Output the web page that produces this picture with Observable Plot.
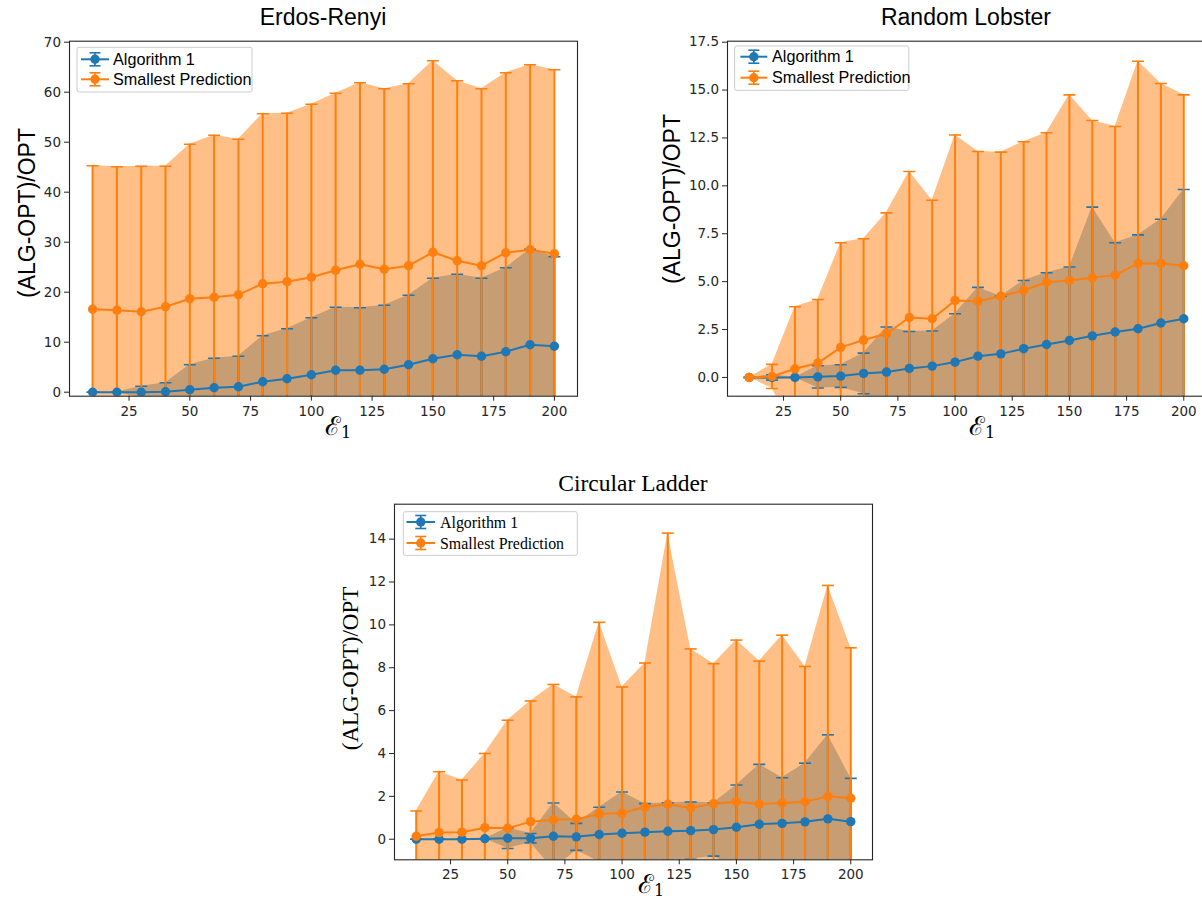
<!DOCTYPE html>
<html><head><meta charset="utf-8">
<script src="https://cdn.jsdelivr.net/npm/d3@7"></script>
<script src="https://cdn.jsdelivr.net/npm/@observablehq/plot@0.6"></script>
<style>
html,body{margin:0;padding:0;background:#fff;overflow:hidden;}
#page{position:relative;width:1202px;height:901px;overflow:hidden;background:#fff;}
.panel{position:absolute;}
#overlay{position:absolute;left:0;top:0;}
</style></head><body><div id="page"></div>
<script>
// x values (epsilon_1)
const eps = [10,20,30,40,50,60,70,80,90,100,110,120,130,140,150,160,170,180,190,200];
const xTicks = [25,50,75,100,125,150,175,200];
const seriesNames = ["Algorithm 1", "Smallest Prediction"];

// Erdos-Renyi
const erAlgMean  = [0,0,0,0.1,0.5,0.9,1.1,2.1,2.7,3.5,4.4,4.4,4.6,5.5,6.7,7.5,7.2,8.1,9.5,9.2];
const erAlgStd   = [0,0,1.2,1.8,5.0,5.9,6.1,9.2,10.0,11.4,12.6,12.5,12.8,13.9,16.1,16.1,15.6,16.8,19.1,17.9];
const erPredMean = [16.6,16.4,16.1,17.1,18.7,19.0,19.5,21.7,22.1,23.0,24.4,25.6,24.6,25.3,28.0,26.3,25.3,27.9,28.5,27.7];
const erPredStd  = [28.7,28.7,29.1,28.1,30.9,32.4,31.1,34.0,33.7,34.6,35.4,36.3,36.1,36.4,38.3,36.0,35.4,36.0,37.0,36.8];
const erYTicks = [0,10,20,30,40,50,60,70];

// Random Lobster
const lbAlgMean  = [0,0,0,0.03,0.07,0.21,0.28,0.47,0.59,0.8,1.11,1.23,1.5,1.72,1.93,2.17,2.37,2.54,2.84,3.06];
const lbAlgStd   = [0,0.14,0,0.58,0.59,1.06,2.35,1.93,1.83,2.52,3.59,3.01,3.56,3.74,3.83,6.72,4.66,4.9,5.42,6.75];
const lbPredMean = [0,0.05,0.45,0.75,1.57,1.95,2.28,3.13,3.06,4.02,3.98,4.24,4.54,4.97,5.06,5.2,5.34,5.95,5.95,5.83];
const lbPredStd  = [0,0.63,3.24,3.32,5.46,5.29,6.31,7.62,6.19,8.63,7.81,7.52,7.76,7.8,9.69,8.21,7.76,10.55,9.39,8.92];
const lbYTicks = [0,2.5,5,7.5,10,12.5,15,17.5];

// Circular Ladder
const ldAlgMean  = [0,0,0,0.02,0.05,0.05,0.14,0.11,0.22,0.28,0.33,0.37,0.4,0.45,0.56,0.7,0.74,0.81,0.95,0.82];
const ldAlgStd   = [0,0,0,0,0.48,0.22,1.55,0.63,1.27,1.92,1.33,1.33,1.34,1.24,1.97,2.79,2.13,2.74,3.92,2.02];
const ldPredMean = [0.14,0.31,0.33,0.54,0.51,0.82,0.91,0.93,1.18,1.22,1.5,1.63,1.46,1.66,1.75,1.64,1.69,1.75,2.0,1.91];
const ldPredStd  = [1.18,2.84,2.43,3.46,5.04,5.63,6.31,5.71,8.94,5.88,6.72,12.65,7.42,6.53,7.54,6.67,7.83,6.31,9.84,7.02];
const ldYTicks = [0,2,4,6,8,10,12,14];

const BLUE = "#1f77b4", ORANGE = "#ff7f0e";
const page = document.getElementById("page");

const rows = (mean, std) => eps.map((x, i) => ({x, m: mean[i], lo: mean[i] - std[i], hi: mean[i] + std[i]}));
const capSymbol = {draw(ctx) { ctx.moveTo(-6, 0); ctx.lineTo(6, 0); }};

function seriesMarks(r, color, part) {
  if (part === "area") return [Plot.areaY(r, {x: "x", y1: "lo", y2: "hi", fill: color, fillOpacity: 0.5, clip: true})];
  if (part === "bars") return [
    Plot.ruleX(r, {x: "x", y1: "lo", y2: "hi", stroke: color, strokeWidth: 2, clip: true}),
    Plot.dot(r, {x: "x", y: "hi", symbol: capSymbol, r: 6, stroke: color, strokeWidth: 1.6, fill: "none", clip: true}),
    Plot.dot(r, {x: "x", y: "lo", symbol: capSymbol, r: 6, stroke: color, strokeWidth: 1.6, fill: "none", clip: true})
  ];
  return [
    Plot.line(r, {x: "x", y: "m", stroke: color, strokeWidth: 2, clip: true}),
    Plot.dot(r, {x: "x", y: "m", r: 4.7, fill: color, stroke: "none", clip: true})
  ];
}

function makePanel(o) {
  const a = rows(o.algMean, o.algStd), p = rows(o.predMean, o.predStd);
  const plot = Plot.plot({
    width: o.width, height: o.height,
    marginLeft: o.ml, marginRight: o.mr, marginTop: o.mt, marginBottom: o.mb,
    x: {domain: [0.5, 209.5]},
    y: {domain: o.yDomain},
    style: {fontFamily: "DejaVu Sans", fontSize: "13.5px", color: "#262626", background: "transparent", maxWidth: "none", overflow: "visible"},
    marks: [
      ...seriesMarks(a, BLUE, "area"),
      ...seriesMarks(p, ORANGE, "area"),
      ...seriesMarks(a, BLUE, "bars"),
      ...seriesMarks(p, ORANGE, "bars"),
      ...seriesMarks(a, BLUE, "line"),
      ...seriesMarks(p, ORANGE, "line"),
      Plot.frame({stroke: "#262626", strokeWidth: 1.1}),
      Plot.axisX({ticks: xTicks, tickSize: 5, tickPadding: 5, label: null, fontSize: 13.5}),
      Plot.axisY({ticks: o.yTicks, tickFormat: o.yFmt, tickSize: 5, tickPadding: 3.5, label: null, fontSize: 13.5})
    ]
  });
  const div = document.createElement("div");
  div.className = "panel";
  div.style.left = o.left + "px";
  div.style.top = o.top + "px";
  div.appendChild(plot);
  page.appendChild(div);
}

makePanel({algMean: erAlgMean, algStd: erAlgStd, predMean: erPredMean, predStd: erPredStd,
  left: 0, top: 0, width: 600, height: 440, ml: 69, mr: 23, mt: 40.7, mb: 44.3,
  yDomain: [-0.8, 70.2], yTicks: erYTicks, yFmt: d3.format("d")});
makePanel({algMean: lbAlgMean, algStd: lbAlgStd, predMean: lbPredMean, predStd: lbPredStd,
  left: 620, top: 0, width: 585, height: 440, ml: 107, mr: 0, mt: 40.7, mb: 44.3,
  yDomain: [-0.98, 17.55], yTicks: lbYTicks, yFmt: d3.format(".1f")});
makePanel({algMean: ldAlgMean, algStd: ldAlgStd, predMean: ldPredMean, predStd: ldPredStd,
  left: 330, top: 470, width: 560, height: 431, ml: 64, mr: 18, mt: 33.7, mb: 41.7,
  yDomain: [-0.96, 15.63], yTicks: ldYTicks, yFmt: d3.format("d")});

// Text overlay: titles, axis labels, legends
function legend(x, y, w, h, rowsY, hx1, hx2, tx, font, fs) {
  const cx = (hx1 + hx2) / 2;
  let s = `<rect x="${x}" y="${y}" width="${w}" height="${h}" rx="2" fill="#fff" fill-opacity="0.8" stroke="#cccccc" stroke-width="1"/>`;
  [BLUE, ORANGE].forEach((c, i) => {
    const ry = rowsY[i];
    s += `<line x1="${hx1}" x2="${hx2}" y1="${ry}" y2="${ry}" stroke="${c}" stroke-width="2"/>`;
    s += `<line x1="${cx}" x2="${cx}" y1="${ry - 6.5}" y2="${ry + 6.5}" stroke="${c}" stroke-width="1.6"/>`;
    s += `<line x1="${cx - 5.5}" x2="${cx + 5.5}" y1="${ry - 6.5}" y2="${ry - 6.5}" stroke="${c}" stroke-width="1.6"/>`;
    s += `<line x1="${cx - 5.5}" x2="${cx + 5.5}" y1="${ry + 6.5}" y2="${ry + 6.5}" stroke="${c}" stroke-width="1.6"/>`;
    s += `<circle cx="${cx}" cy="${ry}" r="4.7" fill="${c}"/>`;
    s += `<text x="${tx}" y="${ry}" dy="0.35em" font-family="${font}" font-size="${fs}" fill="#000">${seriesNames[i]}</text>`;
  });
  return s;
}
function xlab(cx, y) {
  return `<text x="${cx}" y="${y}" text-anchor="middle" font-family="DejaVu Serif" font-size="26" fill="#000">ℰ<tspan dy="3" font-size="16">1</tspan></text>`;
}
function ylab(cx, cy, font) {
  return `<text transform="translate(${cx},${cy}) rotate(-90)" text-anchor="middle" dy="0.35em" font-family="${font}" font-size="23" fill="#000">(ALG-OPT)/OPT</text>`;
}
const SANS = "Liberation Sans", SERIF = "Liberation Serif";
let ov = `<svg id="overlay" width="1202" height="901" xmlns="http://www.w3.org/2000/svg">`;
ov += `<text x="323" y="25" text-anchor="middle" font-family="${SANS}" font-size="23" fill="#000">Erdos-Renyi</text>`;
ov += `<text x="966" y="25" text-anchor="middle" font-family="${SANS}" font-size="23" fill="#000">Random Lobster</text>`;
ov += `<text x="633" y="490.5" text-anchor="middle" font-family="${SERIF}" font-size="23.5" fill="#000">Circular Ladder</text>`;
ov += ylab(27, 213, SANS) + ylab(672, 199, SANS) + ylab(350, 668.5, SERIF);
ov += xlab(338, 435) + xlab(982, 435) + xlab(651, 893);
ov += legend(77, 47.3, 175, 44.7, [59.3, 79.3], 81, 109, 113, SANS, 16.2);
ov += legend(734.6, 46, 174.2, 44.3, [56.7, 77.7], 740.4, 767.3, 772, SANS, 16.2);
ov += legend(403.3, 511.7, 174, 43.6, [522, 543], 406.5, 435, 440, SERIF, 15.9);
ov += `</svg>`;
page.insertAdjacentHTML("beforeend", ov);
</script>
</body></html>
